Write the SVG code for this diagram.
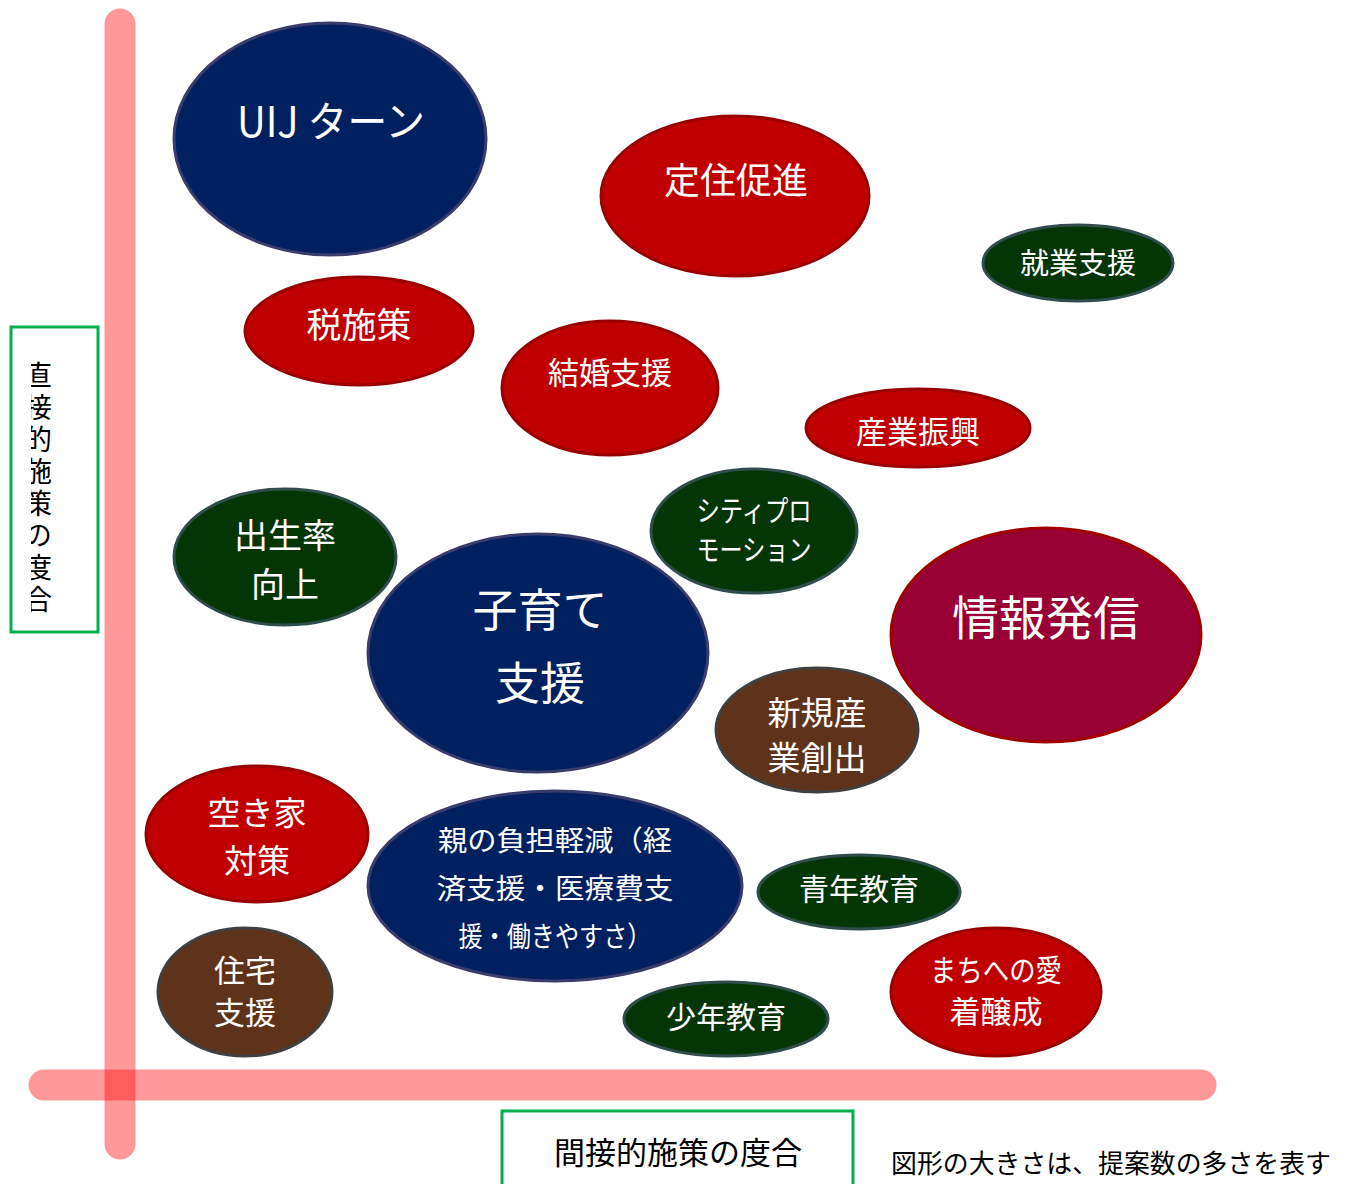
<svg xmlns="http://www.w3.org/2000/svg" width="1346" height="1184" viewBox="0 0 1346 1184">
<defs>
<style>
.t{font-family:"Noto Sans CJK JP","Noto Sans",sans-serif;fill:#fff;text-anchor:middle}
.k{font-family:"Noto Sans CJK JP","Noto Sans",sans-serif;fill:#000}
.v{writing-mode:vertical-rl;text-orientation:upright;letter-spacing:4px}
.blue{fill:#002060;stroke:#3a3d6c;stroke-width:3}
.red{fill:#c00000;stroke:#990000;stroke-width:3}
.green{fill:#043504;stroke:#2f4d4d;stroke-width:3}
.brown{fill:#5f3319;stroke:#404040;stroke-width:3}
.maroon{fill:#990033;stroke:#a00000;stroke-width:3}
.box{fill:#fff;stroke:#00b050;stroke-width:3}
.axis{stroke:#ff0000;stroke-opacity:0.4;stroke-width:31;stroke-linecap:round;fill:none}
</style>
<clipPath id="vclip"><rect x="31" y="330" width="64" height="298"/></clipPath>
</defs>
<rect width="1346" height="1184" fill="#fff"/>
<g id="axes">
<line class="axis" x1="120" y1="24" x2="120" y2="1144"/>
<line class="axis" x1="44" y1="1085" x2="1201" y2="1085"/>
</g>
<g id="label-direct">
<rect class="box" x="11" y="327" width="87" height="305"/>
<text class="k v" x="38" y="361" font-size="28" clip-path="url(#vclip)">直接的施策の度合</text>
</g>
<g id="label-indirect">
<rect class="box" x="502" y="1111" width="351" height="80"/>
<text class="k" x="678" y="1164" font-size="31" text-anchor="middle">間接的施策の度合</text>
</g>
<g id="note">
<text class="k" x="891" y="1173" font-size="26" textLength="440" lengthAdjust="spacingAndGlyphs">図形の大きさは、提案数の多さを表す</text>
</g>
<g id="uij">
<ellipse class="blue" cx="330" cy="139" rx="156" ry="116"/>
<text class="t" x="331" y="137" font-size="42" textLength="188" lengthAdjust="spacingAndGlyphs">UIJ ターン</text>
</g>
<g id="teiju">
<ellipse class="red" cx="735" cy="196" rx="134" ry="80"/>
<text class="t" x="736" y="194" font-size="36">定住促進</text>
</g>
<g id="shugyo">
<ellipse class="green" cx="1078" cy="263" rx="95" ry="38"/>
<text class="t" x="1078" y="274" font-size="29">就業支援</text>
</g>
<g id="zei">
<ellipse class="red" cx="359" cy="331" rx="114" ry="54"/>
<text class="t" x="359" y="338" font-size="35">税施策</text>
</g>
<g id="kekkon">
<ellipse class="red" cx="610" cy="388" rx="108" ry="67"/>
<text class="t" x="610" y="384" font-size="31">結婚支援</text>
</g>
<g id="sangyo">
<ellipse class="red" cx="918" cy="428" rx="112" ry="39"/>
<text class="t" x="918" y="443" font-size="31">産業振興</text>
</g>
<g id="shusseiritsu">
<ellipse class="green" cx="285" cy="557" rx="111" ry="68"/>
<text class="t" font-size="34"><tspan x="285" y="548">出生率</tspan><tspan x="285" y="597">向上</tspan></text>
</g>
<g id="kosodate">
<ellipse class="blue" cx="538" cy="653" rx="170" ry="119"/>
<text class="t" font-size="45"><tspan x="540" y="627">子育て</tspan><tspan x="540" y="700">支援</tspan></text>
</g>
<g id="citypro">
<ellipse class="green" cx="754" cy="531" rx="103" ry="62"/>
<text class="t" x="754" y="522" font-size="29" textLength="115" lengthAdjust="spacingAndGlyphs">シティプロ</text>
<text class="t" x="754" y="561" font-size="29" textLength="115" lengthAdjust="spacingAndGlyphs">モーション</text>
</g>
<g id="joho">
<ellipse class="maroon" cx="1046" cy="635" rx="155" ry="107"/>
<text class="t" x="1046" y="635" font-size="47">情報発信</text>
</g>
<g id="shinki">
<ellipse class="brown" cx="817" cy="730" rx="101" ry="62"/>
<text class="t" font-size="33"><tspan x="817" y="725">新規産</tspan><tspan x="817" y="770">業創出</tspan></text>
</g>
<g id="akiya">
<ellipse class="red" cx="257" cy="834" rx="111" ry="68"/>
<text class="t" font-size="33"><tspan x="257" y="825">空き家</tspan><tspan x="257" y="873">対策</tspan></text>
</g>
<g id="oya">
<ellipse class="blue" cx="555" cy="886" rx="187" ry="95"/>
<text class="t" x="555" y="851" font-size="28" textLength="234" lengthAdjust="spacingAndGlyphs">親の負担軽減（経</text>
<text class="t" x="555" y="899" font-size="28" textLength="237" lengthAdjust="spacingAndGlyphs">済支援・医療費支</text>
<text class="t" x="555" y="947" font-size="28" textLength="193" lengthAdjust="spacingAndGlyphs">援・働きやすさ）</text>
</g>
<g id="seinen">
<ellipse class="green" cx="859" cy="892" rx="101" ry="37"/>
<text class="t" x="859" y="900" font-size="30">青年教育</text>
</g>
<g id="jutaku">
<ellipse class="brown" cx="245" cy="992" rx="87" ry="64"/>
<text class="t" font-size="31"><tspan x="245" y="982">住宅</tspan><tspan x="245" y="1024">支援</tspan></text>
</g>
<g id="machi">
<ellipse class="red" cx="996" cy="992" rx="105" ry="64"/>
<text class="t" x="996" y="981" font-size="30" textLength="132" lengthAdjust="spacingAndGlyphs">まちへの愛</text>
<text class="t" x="996" y="1023" font-size="31">着醸成</text>
</g>
<g id="shonen">
<ellipse class="green" cx="726" cy="1019" rx="102" ry="37"/>
<text class="t" x="726" y="1028" font-size="30">少年教育</text>
</g>
</svg>
